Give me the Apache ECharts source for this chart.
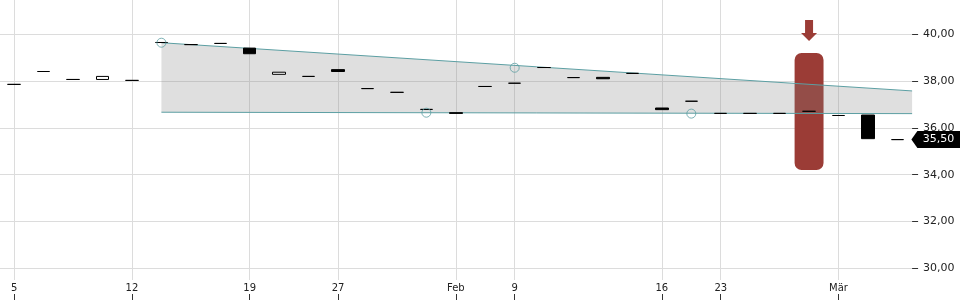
<!DOCTYPE html>
<html><head><meta charset="utf-8">
<script src="https://cdn.jsdelivr.net/npm/echarts@6/dist/echarts.min.js"></script>
<style>html,body{margin:0;padding:0;background:#fff}#c{width:960px;height:300px}</style>
</head><body><div id="c"></div>
<script>
// ---- data ----
const dates = ['2026-01-05','2026-01-07','2026-01-08','2026-01-09','2026-01-12','2026-01-13','2026-01-14','2026-01-15','2026-01-19','2026-01-21','2026-01-23','2026-01-27','2026-01-28','2026-01-29','2026-01-30','2026-02-02','2026-02-05','2026-02-09','2026-02-10','2026-02-11','2026-02-12','2026-02-13','2026-02-16','2026-02-19','2026-02-23','2026-02-24','2026-02-25','2026-02-26','2026-03-02','2026-03-03','2026-03-04'];
const openP  = [37.86,38.41,38.07,38.07,38.03,39.65,39.56,39.61,39.41,38.29,38.20,38.49,37.68,37.52,36.79,36.65,37.77,37.91,38.58,38.15,38.16,38.33,36.85,37.14,36.62,36.62,36.62,36.71,36.53,36.55,35.50];
const closeP = [37.86,38.41,38.07,38.20,38.03,39.65,39.56,39.61,39.17,38.38,38.20,38.41,37.68,37.52,36.79,36.62,37.77,37.91,38.58,38.15,38.10,38.33,36.78,37.14,36.62,36.62,36.62,36.71,36.53,35.54,35.50];
const lowP   = [37.86,38.41,38.07,38.07,38.03,39.65,39.56,39.61,39.17,38.29,38.20,38.41,37.68,37.52,36.79,36.62,37.77,37.91,38.58,38.15,38.10,38.33,36.78,37.14,36.62,36.62,36.62,36.71,36.53,35.54,35.50];
const highP  = [37.86,38.41,38.07,38.20,38.03,39.65,39.56,39.61,39.41,38.38,38.20,38.49,37.68,37.52,36.79,36.65,37.77,37.91,38.58,38.15,38.16,38.33,36.85,37.14,36.62,36.62,36.62,36.71,36.53,36.55,35.50];
const xTickIndex = [0,4,8,11,15,17,22,24,28];
const xTickText  = ['5','12','19','27','Feb','9','16','23','Mär'];
const yTicks = {min:28, max:42, interval:2};
const channelUpper = [[5,39.64],[30.5,37.58]];
const channelLower = [[5,36.67],[30.5,36.61]];
const pivotIdx = [5,14,17,23];
const pivotVal = [39.64,36.65,38.57,36.61];
const signal = [[27,34.2,39.2]];   // index, low, high
const lastPrice = 35.50;

const fmt = v => v.toFixed(2).replace('.', ',');
const TEAL = '#5c9fa3';
const FONT = 'DejaVu Sans';

const chart = echarts.init(document.getElementById('c'), null, {renderer:'canvas'});
chart.setOption({
  animation:false,
  backgroundColor:'#fff',
  grid:{left:-0.5, right:47.9, top:-12.5, bottom:-15.1, containLabel:false, outerBoundsMode:'none'},
  xAxis:[{
    type:'category', data:dates, boundaryGap:true, position:'bottom', offset:-15.1,
    axisLine:{show:false, onZero:false},
    axisTick:{show:true, inside:true, length:6, alignWithLabel:true, interval:(i)=>xTickIndex.includes(i), lineStyle:{color:'#333'}},
    axisLabel:{show:true, inside:true, margin:7, interval:(i)=>xTickIndex.includes(i),
      formatter:(v,i)=>xTickText[xTickIndex.indexOf(i)] || '', color:'#222', fontSize:10, fontFamily:FONT},
    splitLine:{show:false}
  },{
    type:'value', min:-0.5, max:30.5, show:false, axisLine:{onZero:false}
  }],
  yAxis:{
    type:'value', position:'right', min:yTicks.min, max:yTicks.max, interval:yTicks.interval,
    axisLine:{show:false, onZero:false},
    axisTick:{show:true, length:6, lineStyle:{color:'#333'}},
    axisLabel:{margin:11, formatter:fmt, color:'#222', fontSize:11, fontFamily:FONT},
    splitLine:{show:true, lineStyle:{color:'#dcdcdc', width:1}}
  },
  series:[
    { // signal marker
      type:'custom', xAxisIndex:0, z:2, silent:true, data:signal,
      encode:{x:0, y:[1,2]},
      renderItem:(params, api)=>{
        const top = api.coord([api.value(0), api.value(2)]);
        const bot = api.coord([api.value(0), api.value(1)]);
        const w = api.size([1,0])[0] - 0.5;
        const cx = top[0], t = top[1] - 12;
        return {type:'group', children:[
          {type:'rect', shape:{x:cx-w/2, y:top[1], width:w, height:bot[1]-top[1], r:7}, style:{fill:'#9b3c36'}},
          {type:'polygon', shape:{points:[[cx,t],[cx-8,t-8],[cx-4,t-8],[cx-4,t-21],[cx+4,t-21],[cx+4,t-8],[cx+8,t-8]]}, style:{fill:'#9b3c36'}}
        ]};
      }
    },
    { // channel fill
      type:'custom', xAxisIndex:1, z:3, silent:true, data:[[channelUpper[0][0], channelUpper[0][1]]],
      renderItem:(params, api)=>{
        const pts = channelUpper.map(p=>api.coord(p)).concat(channelLower.slice().reverse().map(p=>api.coord(p)));
        return {type:'polygon', shape:{points:pts}, style:{fill:'rgba(128,128,128,0.25)'}};
      }
    },
    {type:'line', xAxisIndex:1, z:4, data:channelUpper, showSymbol:false, symbol:'none', lineStyle:{color:TEAL, width:1}, silent:true},
    {type:'line', xAxisIndex:1, z:4, data:channelLower, showSymbol:false, symbol:'none', lineStyle:{color:TEAL, width:1}, silent:true},
    {
      type:'candlestick', xAxisIndex:0, z:5, barWidth:13,
      data:dates.map((d,i)=>[openP[i], closeP[i], lowP[i], highP[i]]),
      itemStyle:{color:'#fff', color0:'#000', borderColor:'#000', borderColor0:'#000', borderColorDoji:'#000', borderWidth:1},
      markLine:{
        z:1, silent:true, symbol:['none','none'], label:{show:false}, animation:false,
        lineStyle:{color:'#dcdcdc', width:1, type:'solid'},
        data:xTickIndex.map(i=>[{coord:[i,29.5]},{coord:[i,42]}])
      },
      markPoint:{
        silent:true, animation:false,
        symbol:'path://M0,8.5L6,0L50,0L50,17L6,17Z', symbolSize:[50,17], symbolKeepAspect:false, symbolOffset:[39,0],
        itemStyle:{color:'#000'},
        label:{show:true, position:'inside', offset:[2,0], formatter:()=>fmt(lastPrice), color:'#fff', fontSize:11, fontFamily:FONT},
        data:[{coord:[dates.length-1, lastPrice], value:lastPrice}]
      }
    },
    {
      type:'scatter', xAxisIndex:0, z:6, silent:true, symbol:'circle', symbolSize:9,
      data:pivotIdx.map((i,k)=>[i, pivotVal[k]]),
      itemStyle:{color:'rgba(0,0,0,0)', borderColor:TEAL, borderWidth:1}
    }
  ]
});
</script>
</body></html>
